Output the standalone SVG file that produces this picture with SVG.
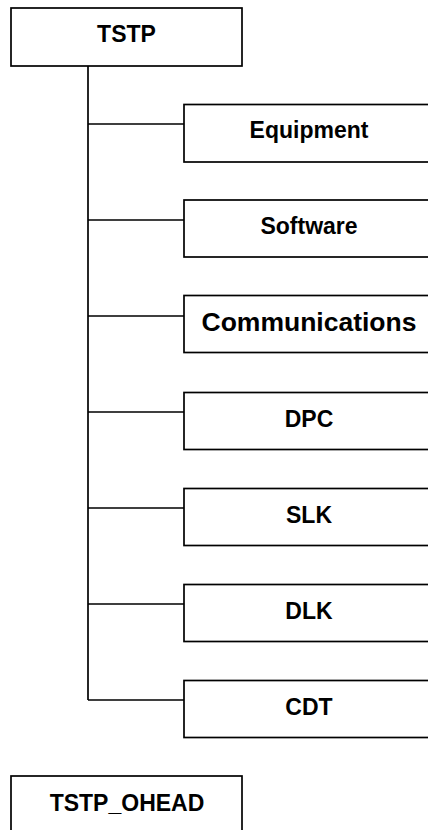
<svg xmlns="http://www.w3.org/2000/svg" width="428" height="830" viewBox="0 0 428 830">
<style>
.box{fill:#fff;stroke:#000;stroke-width:1.7}
.lbl{font-family:"Liberation Sans",Arial,sans-serif;font-weight:bold;font-size:23px;fill:#000;text-anchor:middle}
.con{fill:none;stroke:#000;stroke-width:1.7}
</style>
<rect width="428" height="830" fill="#fff"/>
<g id="connectors">
<path class="con" d="M88,66 V700"/>
<path class="con" d="M88,124 H184 M88,220 H184 M88,316 H184 M88,412 H184 M88,508 H184 M88,604 H184 M88,700 H184"/>
</g>
<g id="n-tstp"><rect class="box" x="11" y="8" width="231" height="58"/><text class="lbl" x="126.5" y="42.3">TSTP</text></g>
<g id="n-equipment"><rect class="box" x="184" y="104.5" width="250" height="57.5"/><text class="lbl" x="309" y="138.3">Equipment</text></g>
<g id="n-software"><rect class="box" x="184" y="200" width="250" height="57"/><text class="lbl" x="309" y="234">Software</text></g>
<g id="n-communications"><rect class="box" x="184" y="295.5" width="250" height="57"/><text class="lbl" x="309" y="331" style="font-size:26.5px">Communications</text></g>
<g id="n-dpc"><rect class="box" x="184" y="392.5" width="250" height="57"/><text class="lbl" x="309" y="427">DPC</text></g>
<g id="n-slk"><rect class="box" x="184" y="488.5" width="250" height="57"/><text class="lbl" x="309" y="523">SLK</text></g>
<g id="n-dlk"><rect class="box" x="184" y="584.5" width="250" height="57"/><text class="lbl" x="309" y="619">DLK</text></g>
<g id="n-cdt"><rect class="box" x="184" y="680.5" width="250" height="57"/><text class="lbl" x="309" y="715">CDT</text></g>
<g id="n-tstp-ohead"><rect class="box" x="11" y="776" width="231" height="70"/><text class="lbl" x="127" y="811">TSTP_OHEAD</text></g>
</svg>
